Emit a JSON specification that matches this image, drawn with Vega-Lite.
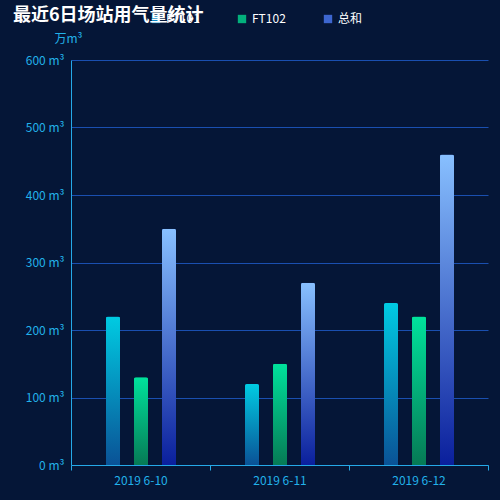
{
  "$schema": "https://vega.github.io/schema/vega-lite/v6.json",
  "width": 417,
  "height": 405,
  "autosize": {"type": "none"},
  "padding": {"left": 71, "top": 60, "right": 12, "bottom": 35},
  "background": "#051637",
  "title": {
    "text": "最近6日场站用气量统计",
    "anchor": "start",
    "frame": "group",
    "dx": -58,
    "offset": -12,
    "fontSize": 18,
    "fontWeight": "bold",
    "color": "#ffffff",
    "font": "Noto Sans CJK SC"
  },
  "data": {
    "values": [
      {"date": "2019 6-10", "series": "FT101", "value": 220},
      {"date": "2019 6-10", "series": "FT102", "value": 130},
      {"date": "2019 6-10", "series": "总和", "value": 350},
      {"date": "2019 6-11", "series": "FT101", "value": 120},
      {"date": "2019 6-11", "series": "FT102", "value": 150},
      {"date": "2019 6-11", "series": "总和", "value": 270},
      {"date": "2019 6-12", "series": "FT101", "value": 240},
      {"date": "2019 6-12", "series": "FT102", "value": 220},
      {"date": "2019 6-12", "series": "总和", "value": 460}
    ]
  },
  "encoding": {
    "x": {
      "field": "date",
      "type": "nominal",
      "sort": null,
      "scale": {"paddingInner": 0, "paddingOuter": 0},
      "axis": {
        "title": null,
        "labelAngle": 0,
        "labelColor": "#22b2ea",
        "labelFontSize": 12,
        "labelPadding": 5,
        "domainColor": "#25a9e8",
        "tickColor": "#25a9e8",
        "tickSize": 5,
        "tickBand": "extent",
        "grid": false
      }
    },
    "xOffset": {
      "field": "series",
      "scale": {"domain": ["FT101", "FT102", "总和"], "range": [35, 105], "paddingInner": 0.5, "paddingOuter": 0}
    },
    "y": {
      "field": "value",
      "type": "quantitative",
      "scale": {"domain": [0, 600]},
      "axis": {
        "title": "万m³",
        "titleAngle": 0,
        "titleX": -3,
        "titleY": -22,
        "titleAlign": "center",
        "titleBaseline": "middle",
        "titleColor": "#22b2ea",
        "titleFontSize": 12,
        "titleFontWeight": "normal",
        "values": [0, 100, 200, 300, 400, 500, 600],
        "labelExpr": "datum.value + ' m³'",
        "labelColor": "#22b2ea",
        "labelFontSize": 12,
        "labelPadding": 7,
        "ticks": false,
        "domainColor": "#25a9e8",
        "gridColor": "#1a4fb0",
        "gridWidth": 1
      }
    }
  },
  "layer": [
    {
      "mark": {"type": "bar", "cornerRadiusTopLeft": 2, "cornerRadiusTopRight": 2},
      "encoding": {
        "color": {
          "field": "series",
          "type": "nominal",
          "scale": {"domain": ["FT101", "FT102", "总和"], "range": ["#0a86c4", "#03b07c", "#3d66cf"]},
          "legend": {
            "title": null,
            "orient": "none",
            "direction": "horizontal",
            "legendX": 79,
            "legendY": -47,
            "columnPadding": 36,
            "symbolType": "square",
            "symbolSize": 70,
            "symbolStrokeWidth": 0,
            "labelColor": "#ffffff",
            "labelFontSize": 12,
            "labelFont": "Noto Sans CJK SC"
          }
        }
      }
    },
    {
      "transform": [{"filter": "datum.series === 'FT101'"}],
      "mark": {
        "type": "bar", "cornerRadiusTopLeft": 2, "cornerRadiusTopRight": 2,
        "color": {"gradient": "linear", "x1": 0, "y1": 0, "x2": 0, "y2": 1, "stops": [{"offset": 0, "color": "#00cbe2"}, {"offset": 1, "color": "#0a5296"}]}
      }
    },
    {
      "transform": [{"filter": "datum.series === 'FT102'"}],
      "mark": {
        "type": "bar", "cornerRadiusTopLeft": 2, "cornerRadiusTopRight": 2,
        "color": {"gradient": "linear", "x1": 0, "y1": 0, "x2": 0, "y2": 1, "stops": [{"offset": 0, "color": "#00e29c"}, {"offset": 1, "color": "#067a55"}]}
      }
    },
    {
      "transform": [{"filter": "datum.series === '总和'"}],
      "mark": {
        "type": "bar", "cornerRadiusTopLeft": 2, "cornerRadiusTopRight": 2,
        "color": {"gradient": "linear", "x1": 0, "y1": 0, "x2": 0, "y2": 1, "stops": [{"offset": 0, "color": "#88c0ff"}, {"offset": 1, "color": "#0a1f9c"}]}
      }
    }
  ],
  "config": {
    "view": {"stroke": null},
    "font": "Noto Sans CJK SC"
  }
}
